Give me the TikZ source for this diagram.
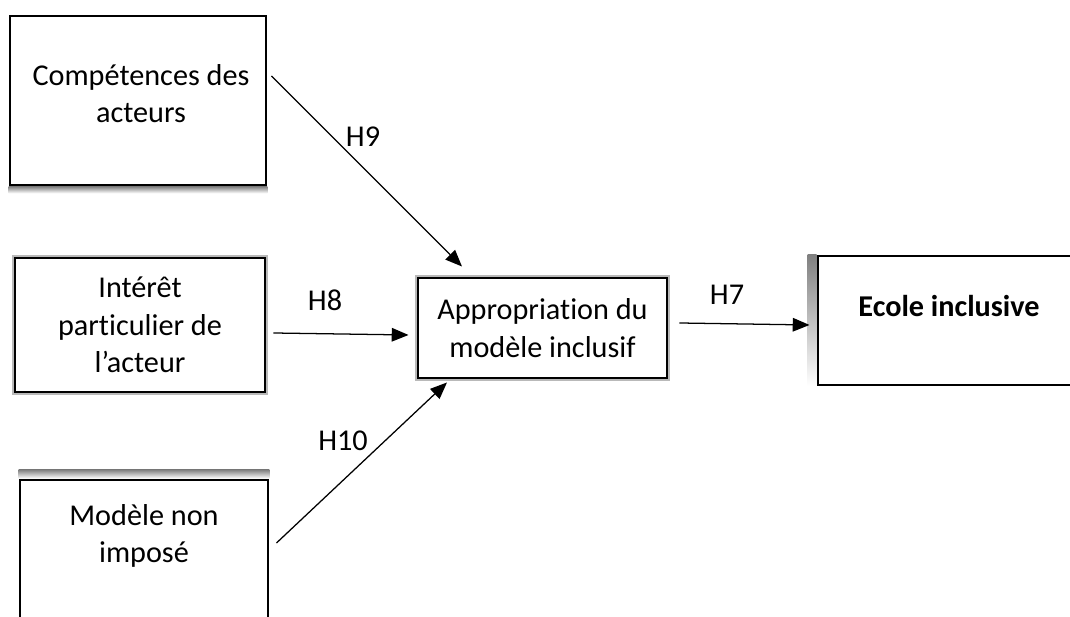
\documentclass[tikz,border=0pt]{standalone}
\usepackage{fontspec}
\setmainfont{Carlito}[RawFeature={-liga;-clig;-calt;-dlig}]
\usetikzlibrary{calc,arrows.meta,backgrounds}
\definecolor{shade}{RGB}{185,185,185}

\begin{document}
\begin{tikzpicture}[
  box/.style={draw=black, line width=2.1pt, fill=white, inner sep=0pt},
  halo/.style={preaction={draw=shade, line width=3.9pt}},
  txt/.style={align=center, font=\fontsize{21.5}{26.5}\selectfont},
  arr/.style={line width=0.9pt, -{Triangle[length=0.42cm, width=0.34cm]}},
  lbl/.style={font=\fontsize{21.5}{24}\selectfont}]
  \useasboundingbox (0,0) rectangle (26.75,15.425);
  % Boxes
  \node[box, minimum width=6.4cm, minimum height=4.225cm] (comp) at (3.45,12.9125) {};
  \node[box, halo, txt, minimum width=6.25cm, minimum height=3.35cm] (inter) at (3.5,7.3)
    {Intérêt\\particulier de\\l’acteur};
  \node[box, minimum width=6.2cm, minimum height=4.25cm] (model) at (3.6,1.3) {};
  \node[box, halo, txt, minimum width=6.225cm, minimum height=2.5cm] (appro) at (13.5625,7.225)
    {Appropriation du\\modèle inclusif};
  \node[box, minimum width=6.675cm, minimum height=3.225cm] (ecole) at (23.7875,7.4125) {};
  % Texts in the boxes
  \node[txt] (comp-txt) at (3.525,13.0875) {Compétences des\\acteurs};
  \node[txt] (model-txt) at (3.6,2.025) {Modèle non\\imposé};
  \node[txt, font=\fontsize{21.5}{26.5}\selectfont\bfseries] (ecole-txt) at (23.725,7.775) {Ecole inclusive};
  % Gray edges
  \begin{scope}[on background layer]
    \fill[shade] (comp.south west) rectangle ($(comp.south east)+(0,-0.17)$);
    \fill[shade] ($(model.north west)+(0,0.22)$) rectangle (model.north east);
    \fill[shade] ($(ecole.north west)+(-0.22,0)$) rectangle (ecole.south west);
  \end{scope}
  % Arrows
  \draw[arr] ($(comp.east)+(0.1,0.6125)$) -- ($(appro.north)+(-2.0125,0.25)$);
  \draw[arr] ($(inter.east)+(0.175,-0.2)$) -- ($(appro.west)+(-0.2,-0.175)$);
  \draw[arr] ($(model.east)+(0.175,0.55)$) -- ($(appro.south)+(-2.3875,-0.075)$);
  \draw[arr] ($(appro.east)+(0.275,0.125)$) -- ($(ecole.west)+(-0.175,-0.1125)$);
  % Labels
  \node[lbl] (h9) at (9.075,12.0) {H9};
  \node[lbl] (h8) at (8.125,7.925) {H8};
  \node[lbl] (h10) at (8.575,4.4) {H10};
  \node[lbl] (h7) at (18.175,8.05) {H7};
\end{tikzpicture}
\end{document}
